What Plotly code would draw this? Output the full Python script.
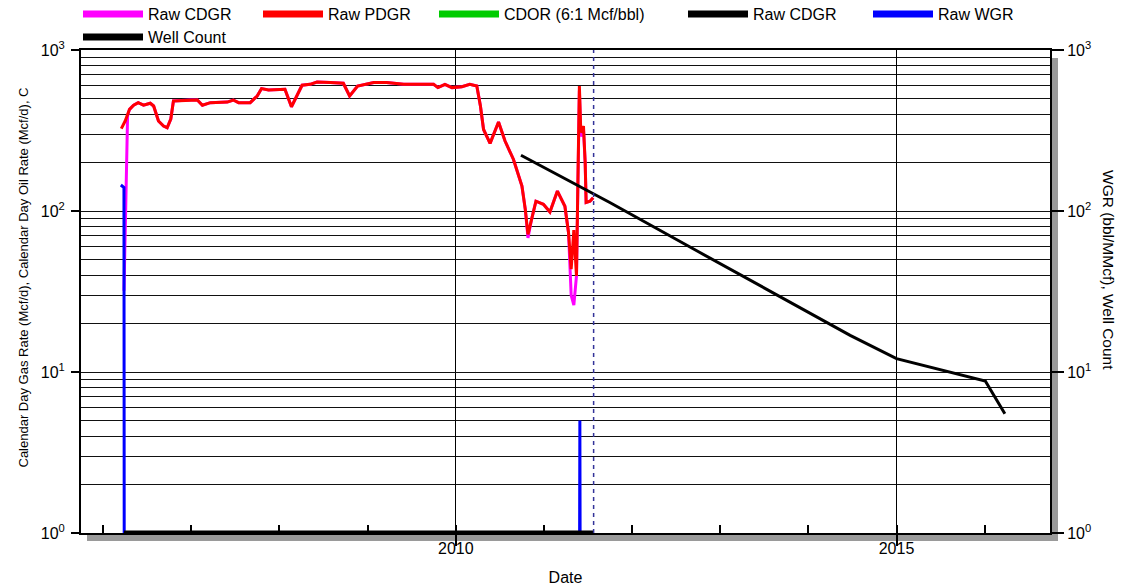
import plotly.graph_objects as go

# ---------------- data ----------------
pdgr_dates = ['2006-03-17', '2006-04-02', '2006-04-20', '2006-05-07', '2006-05-26', '2006-06-17',
              '2006-07-15', '2006-07-29', '2006-08-18', '2006-09-08', '2006-09-23', '2006-10-08',
              '2006-10-19', '2006-12-27', '2007-01-26', '2007-02-16', '2007-03-21', '2007-05-30',
              '2007-06-24', '2007-07-16', '2007-09-02', '2007-10-01', '2007-10-19', '2007-11-17',
              '2008-01-24', '2008-02-20', '2008-03-13', '2008-04-04', '2008-05-07', '2008-06-05',
              '2008-07-30', '2008-09-22', '2008-10-18', '2008-11-20', '2009-01-26', '2009-03-20',
              '2009-05-30', '2009-07-24', '2009-10-01', '2009-10-19', '2009-11-17', '2009-12-16',
              '2010-01-26', '2010-02-28', '2010-03-29', '2010-04-13', '2010-04-26', '2010-05-23',
              '2010-06-27', '2010-07-24', '2010-08-28', '2010-10-02', '2010-10-16', '2010-10-27',
              '2010-11-11', '2010-11-29', '2010-12-30', '2011-01-26', '2011-02-26', '2011-03-29',
              '2011-04-13', '2011-04-24', '2011-05-05', '2011-05-16', '2011-05-22', '2011-05-28',
              '2011-06-03', '2011-06-14', '2011-06-21', '2011-06-25', '2011-07-11', '2011-07-24']
pdgr_values = [325, 362, 428, 454, 471, 454,
               467, 449, 362, 337, 329, 372,
               482, 489, 489, 454, 471, 475,
               489, 471, 471, 518, 576, 564,
               570, 444, 518, 604, 612, 632,
               628, 621, 518, 597, 628, 628,
               612, 612, 612, 584, 612, 584,
               592, 612, 597, 449, 321, 263,
               357, 272, 209, 143, 102, 71.6,
               88.8, 115, 110, 98.6, 133, 107,
               73.5, 43.5, 76, 39.5, 157, 597,
               307, 337, 200, 113, 115, 121]

cdgr_dates = ['2006-03-28', '2006-03-31', '2006-04-05', '2006-04-12', '2006-04-20', '2006-05-07',
              '2006-05-26', '2006-06-17', '2006-07-15', '2006-07-29', '2006-08-18', '2006-09-08',
              '2006-09-23', '2006-10-08', '2006-10-19', '2006-12-27', '2007-01-26', '2007-02-16',
              '2007-03-21', '2007-05-30', '2007-06-24', '2007-07-16', '2007-09-02', '2007-10-01',
              '2007-10-19', '2007-11-17', '2008-01-24', '2008-02-20', '2008-03-13', '2008-04-04',
              '2008-05-07', '2008-06-05', '2008-07-30', '2008-09-22', '2008-10-18', '2008-11-20',
              '2009-01-26', '2009-03-20', '2009-05-30', '2009-07-24', '2009-10-01', '2009-10-19',
              '2009-11-17', '2009-12-16', '2010-01-26', '2010-02-28', '2010-03-29', '2010-04-13',
              '2010-04-26', '2010-05-23', '2010-06-27', '2010-07-24', '2010-08-28', '2010-10-02',
              '2010-10-16', '2010-10-27', '2010-11-11', '2010-11-29', '2010-12-30', '2011-01-26',
              '2011-02-26', '2011-03-29', '2011-04-13', '2011-04-24', '2011-05-05', '2011-05-16',
              '2011-05-22', '2011-05-28', '2011-06-03', '2011-06-14', '2011-06-21', '2011-06-25',
              '2011-07-11', '2011-07-24']
cdgr_values = [32, 61, 117, 390, 428, 454,
               471, 454, 467, 449, 362, 337,
               329, 372, 482, 489, 489, 454,
               471, 475, 489, 471, 471, 518,
               576, 564, 570, 444, 518, 604,
               612, 632, 628, 621, 518, 597,
               628, 628, 612, 612, 612, 584,
               612, 584, 592, 612, 597, 449,
               321, 263, 357, 272, 209, 143,
               102, 68, 88.8, 115, 110, 98.6,
               133, 107, 73.5, 30, 26, 39.5,
               157, 560, 290, 320, 200, 113,
               115, 121]

cdor_dates = ['2006-03-17', '2011-07-24']
cdor_values = [0, 0]

forecast_dates = ['2010-09-28', '2011-10-01', '2012-10-01', '2013-10-01', '2014-06-23',
                  '2015-01-01', '2015-07-01', '2016-01-04', '2016-03-25']
forecast_values = [222, 113, 56, 28, 16.9, 12.1, 10.4, 8.8, 5.5]

wgr_dates = ['2006-03-15', '2006-03-28', '2006-03-29', '2011-05-29', '2011-05-30', '2011-05-31', '2011-07-24']
wgr_values = [145, 140, 0, 0, 5, 0, 0]

well_dates = ['2006-03-28', '2011-07-24']
well_count = [1, 1]

forecast_start = '2011-07-26'
x_range = ['2005-10-01', '2016-09-28']
y_decades = [1, 10, 100, 1000]
y_tick_text = ['10<sup>0</sup>', '10<sup>1</sup>', '10<sup>2</sup>', '10<sup>3</sup>']
left_title = 'Calendar Day Gas Rate (Mcf/d), Calendar Day Oil Rate (Mcf/d), C'
right_title = 'WGR (bbl/MMcf), Well Count'

# ---------------- layout geometry ----------------
W, H = 1123, 586
ML, MR, MT, MB = 81, 73, 50, 53
PW, PH = W - ML - MR, H - MT - MB
FONT = 'Arial, Liberation Sans, sans-serif'
AXIS_FLOOR = 1  # zero values are drawn on the bottom of the log axis


def px_x(p):
    return (p - ML) / PW


def px_y(p):
    return 1 - (p - MT) / PH


minor_grid = [m * d for d in (1, 10, 100) for m in range(2, 10)]

series = [
    # name, x, y, colour, width, axis, legend, group
    ('Raw CDGR', cdgr_dates, cdgr_values, '#ff00ff', 3, 'y', 'legend', 'cdgr'),
    ('Raw PDGR', pdgr_dates, pdgr_values, '#ff0000', 3, 'y', 'legend2', 'pdgr'),
    ('CDOR (6:1 Mcf/bbl)', cdor_dates, cdor_values, '#00cc00', 3, 'y', 'legend3', 'cdor'),
    ('Raw CDGR', forecast_dates, forecast_values, '#000000', 3, 'y', 'legend4', 'fcst'),
    ('Raw WGR', wgr_dates, [max(v, AXIS_FLOOR) for v in wgr_values], '#0000ff', 3, 'y2', 'legend5', 'wgr'),
    ('Well Count', well_dates, well_count, '#000000', 5, 'y2', 'legend6', 'wells'),
]

fig = go.Figure()
for name, xs, ys, col, lw, ax, leg, grp in series:
    fig.add_trace(go.Scatter(x=xs, y=ys, name=name, mode='lines', line=dict(color=col, width=lw),
                             yaxis=ax, legend=leg, legendgroup=grp, showlegend=False))
    # legend key drawn with a broad swatch like the reference
    fig.add_trace(go.Scatter(x=[None], y=[None], name=name, mode='lines',
                             line=dict(color=col, width=7), yaxis=ax, legend=leg,
                             legendgroup=grp, showlegend=True, hoverinfo='skip'))

legend_text_x = {'legend': 149, 'legend2': 329, 'legend3': 505, 'legend4': 754, 'legend5': 939, 'legend6': 149}
legend_row_y = {'legend': 14, 'legend2': 14, 'legend3': 14, 'legend4': 14, 'legend5': 14, 'legend6': 37}
legend_layout = {}
for key in legend_text_x:
    legend_layout[key] = dict(x=px_x(legend_text_x[key] - 71), y=px_y(legend_row_y[key]),
                              xanchor='left', yanchor='middle', orientation='h',
                              bgcolor='rgba(0,0,0,0)', itemwidth=60,
                              font=dict(family=FONT, size=16, color='#000'))

fig.update_layout(
    width=W, height=H,
    margin=dict(l=ML, r=MR, t=MT, b=MB, autoexpand=False),
    paper_bgcolor='white', plot_bgcolor='white',
    font=dict(family=FONT, size=16, color='#000'),
    showlegend=True,
    **legend_layout,
    xaxis=dict(type='date', range=x_range, tick0='2010-01-01', dtick='M60', tickformat='%Y',
               ticks='outside', ticklen=11, tickcolor='#000', tickwidth=1.5, ticklabelstandoff=-11,
               showgrid=True, gridcolor='#000', gridwidth=1, automargin=False,
               showline=True, linecolor='#000', linewidth=2, mirror=True,
               minor=dict(dtick='M12', tick0='2010-01-01', ticks='inside', ticklen=8,
                          tickcolor='#000', tickwidth=1.5, showgrid=False),
               title=dict(text='Date', font=dict(size=16), standoff=16),
               tickfont=dict(size=16)),
    yaxis=dict(type='log', range=[0, 3], tickmode='array', tickvals=y_decades, ticktext=y_tick_text,
               ticks='outside', ticklen=8, tickcolor='#000', tickwidth=1.5, ticklabelstandoff=3,
               showgrid=True, gridcolor='#111', gridwidth=1, automargin=False,
               minor=dict(tickmode='array', tickvals=minor_grid, showgrid=True,
                          gridcolor='#111', gridwidth=1, ticks=''),
               showline=True, linecolor='#000', linewidth=2,
               tickfont=dict(size=16)),
    yaxis2=dict(type='log', range=[0, 3], overlaying='y', side='right', tickmode='array',
                tickvals=y_decades, ticktext=y_tick_text, automargin=False,
                ticks='outside', ticklen=12, tickcolor='#000', tickwidth=1.5,
                showgrid=False, showline=True, linecolor='#000', linewidth=2,
                tickfont=dict(size=16)),
)

# axis titles, placed where the reference draws them
fig.add_annotation(text=left_title, xref='paper', yref='paper', x=px_x(22.5), y=px_y(278),
                   xanchor='center', yanchor='middle',
                   textangle=-90, showarrow=False, font=dict(family=FONT, size=13, color='#000'))
fig.add_annotation(text=right_title, xref='paper', yref='paper', x=px_x(1109), y=px_y(270),
                   xanchor='center', yanchor='middle',
                   textangle=90, showarrow=False, font=dict(family=FONT, size=15.5, color='#000'))

# forecast start marker
fig.add_shape(type='line', xref='x', yref='paper', x0=forecast_start, x1=forecast_start, y0=0, y1=1,
              line=dict(color='#333399', width=1.5, dash='4px,4px'))

# drop shadow of the plot frame
fig.add_shape(type='rect', xref='paper', yref='paper', xsizemode='pixel', xanchor=1, x0=1, x1=8,
              y0=px_y(MT + PH + 8), y1=px_y(MT + 8), line_width=0, fillcolor='#9a9a9a', layer='below')
fig.add_shape(type='rect', xref='paper', yref='paper', ysizemode='pixel', yanchor=0, y0=-8, y1=-1,
              x0=px_x(ML + 6), x1=px_x(ML + PW + 8), line_width=0, fillcolor='#9a9a9a', layer='below')

fig.write_html('out.html')
